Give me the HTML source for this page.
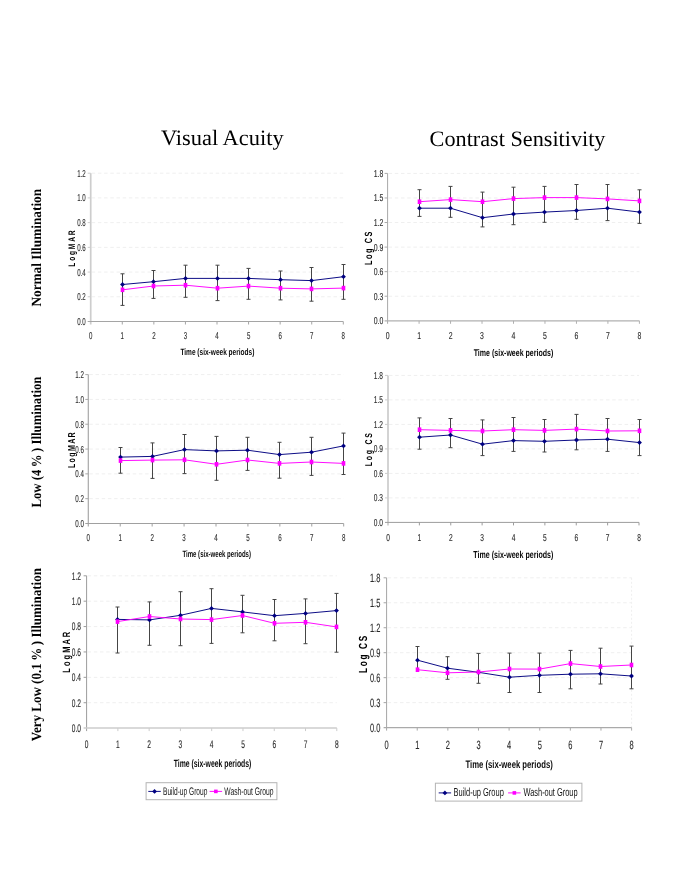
<!DOCTYPE html>
<html><head><meta charset="utf-8"><style>
html,body{margin:0;padding:0;background:#fff;}
svg{display:block;filter:blur(0.35px);} text{text-rendering:geometricPrecision;} .tk{stroke:#2a2a2a;stroke-width:0.12px;}
</style></head><body>
<svg width="685" height="887" viewBox="0 0 685 887">
<rect width="685" height="887" fill="#fff"/>
<line x1="91.7" y1="296.78" x2="343.3" y2="296.78" stroke="#efefef" stroke-width="1" stroke-dasharray="3.5,2.7"/>
<line x1="91.7" y1="272.07" x2="343.3" y2="272.07" stroke="#efefef" stroke-width="1" stroke-dasharray="3.5,2.7"/>
<line x1="91.7" y1="247.35" x2="343.3" y2="247.35" stroke="#efefef" stroke-width="1" stroke-dasharray="3.5,2.7"/>
<line x1="91.7" y1="222.63" x2="343.3" y2="222.63" stroke="#efefef" stroke-width="1" stroke-dasharray="3.5,2.7"/>
<line x1="91.7" y1="197.92" x2="343.3" y2="197.92" stroke="#efefef" stroke-width="1" stroke-dasharray="3.5,2.7"/>
<line x1="91.7" y1="173.2" x2="343.3" y2="173.2" stroke="#efefef" stroke-width="1" stroke-dasharray="3.5,2.7"/>
<line x1="90.7" y1="173.2" x2="90.7" y2="324.5" stroke="#cdcdcd" stroke-width="1.7"/>
<line x1="87.7" y1="321.5" x2="343.3" y2="321.5" stroke="#a5a5a5" stroke-width="1.0"/>
<line x1="87.7" y1="296.78" x2="90.7" y2="296.78" stroke="#cdcdcd" stroke-width="1"/>
<line x1="87.7" y1="272.07" x2="90.7" y2="272.07" stroke="#cdcdcd" stroke-width="1"/>
<line x1="87.7" y1="247.35" x2="90.7" y2="247.35" stroke="#cdcdcd" stroke-width="1"/>
<line x1="87.7" y1="222.63" x2="90.7" y2="222.63" stroke="#cdcdcd" stroke-width="1"/>
<line x1="87.7" y1="197.92" x2="90.7" y2="197.92" stroke="#cdcdcd" stroke-width="1"/>
<line x1="87.7" y1="173.2" x2="90.7" y2="173.2" stroke="#cdcdcd" stroke-width="1"/>
<line x1="122.28" y1="321.5" x2="122.28" y2="324.5" stroke="#a5a5a5" stroke-width="1"/>
<line x1="153.85" y1="321.5" x2="153.85" y2="324.5" stroke="#a5a5a5" stroke-width="1"/>
<line x1="185.43" y1="321.5" x2="185.43" y2="324.5" stroke="#a5a5a5" stroke-width="1"/>
<line x1="217" y1="321.5" x2="217" y2="324.5" stroke="#a5a5a5" stroke-width="1"/>
<line x1="248.57" y1="321.5" x2="248.57" y2="324.5" stroke="#a5a5a5" stroke-width="1"/>
<line x1="280.15" y1="321.5" x2="280.15" y2="324.5" stroke="#a5a5a5" stroke-width="1"/>
<line x1="311.73" y1="321.5" x2="311.73" y2="324.5" stroke="#a5a5a5" stroke-width="1"/>
<line x1="343.3" y1="321.5" x2="343.3" y2="324.5" stroke="#a5a5a5" stroke-width="1"/>
<text transform="translate(77.20,324.95) scale(0.6115,1)" font-family='"Liberation Sans", sans-serif' font-size="10.00" fill="#2a2a2a" class="tk">0.0</text>
<text transform="translate(77.20,300.23) scale(0.6115,1)" font-family='"Liberation Sans", sans-serif' font-size="10.00" fill="#2a2a2a" class="tk">0.2</text>
<text transform="translate(77.20,275.52) scale(0.6115,1)" font-family='"Liberation Sans", sans-serif' font-size="10.00" fill="#2a2a2a" class="tk">0.4</text>
<text transform="translate(77.20,250.80) scale(0.6115,1)" font-family='"Liberation Sans", sans-serif' font-size="10.00" fill="#2a2a2a" class="tk">0.6</text>
<text transform="translate(77.20,226.08) scale(0.6115,1)" font-family='"Liberation Sans", sans-serif' font-size="10.00" fill="#2a2a2a" class="tk">0.8</text>
<text transform="translate(77.20,201.37) scale(0.6115,1)" font-family='"Liberation Sans", sans-serif' font-size="10.00" fill="#2a2a2a" class="tk">1.0</text>
<text transform="translate(77.20,176.70) scale(0.6115,1)" font-family='"Liberation Sans", sans-serif' font-size="10.00" fill="#2a2a2a" class="tk">1.2</text>
<text transform="translate(89.00,338.65) scale(0.6115,1)" font-family='"Liberation Sans", sans-serif' font-size="10.00" fill="#2a2a2a" class="tk">0</text>
<text transform="translate(120.58,338.65) scale(0.6115,1)" font-family='"Liberation Sans", sans-serif' font-size="10.00" fill="#2a2a2a" class="tk">1</text>
<text transform="translate(152.15,338.70) scale(0.6115,1)" font-family='"Liberation Sans", sans-serif' font-size="10.00" fill="#2a2a2a" class="tk">2</text>
<text transform="translate(183.73,338.65) scale(0.6115,1)" font-family='"Liberation Sans", sans-serif' font-size="10.00" fill="#2a2a2a" class="tk">3</text>
<text transform="translate(215.30,338.65) scale(0.6115,1)" font-family='"Liberation Sans", sans-serif' font-size="10.00" fill="#2a2a2a" class="tk">4</text>
<text transform="translate(246.88,338.60) scale(0.6115,1)" font-family='"Liberation Sans", sans-serif' font-size="10.00" fill="#2a2a2a" class="tk">5</text>
<text transform="translate(278.45,338.65) scale(0.6115,1)" font-family='"Liberation Sans", sans-serif' font-size="10.00" fill="#2a2a2a" class="tk">6</text>
<text transform="translate(310.03,338.65) scale(0.6115,1)" font-family='"Liberation Sans", sans-serif' font-size="10.00" fill="#2a2a2a" class="tk">7</text>
<text transform="translate(341.60,338.65) scale(0.6115,1)" font-family='"Liberation Sans", sans-serif' font-size="10.00" fill="#2a2a2a" class="tk">8</text>
<text transform="translate(180.40,354.80) scale(0.7092,1)" font-family='"Liberation Sans", sans-serif' font-size="9.22" font-weight="bold" fill="#0a0a0a">Time (six-week periods)</text>
<text transform="translate(75.20,266.70) rotate(-90) scale(0.7000,1)" font-family='"Liberation Sans", sans-serif' font-size="9.50" font-weight="bold" fill="#000" letter-spacing="2.536">LogMAR</text>
<line x1="122.5" y1="273.8" x2="122.5" y2="305.4" stroke="#454545" stroke-width="1"/>
<line x1="120.5" y1="273.8" x2="124.5" y2="273.8" stroke="#454545" stroke-width="1"/>
<line x1="120.5" y1="305.4" x2="124.5" y2="305.4" stroke="#454545" stroke-width="1"/>
<line x1="153.5" y1="270.5" x2="153.5" y2="298.4" stroke="#454545" stroke-width="1"/>
<line x1="151.5" y1="270.5" x2="155.5" y2="270.5" stroke="#454545" stroke-width="1"/>
<line x1="151.5" y1="298.4" x2="155.5" y2="298.4" stroke="#454545" stroke-width="1"/>
<line x1="185.5" y1="265.2" x2="185.5" y2="297.3" stroke="#454545" stroke-width="1"/>
<line x1="183.5" y1="265.2" x2="187.5" y2="265.2" stroke="#454545" stroke-width="1"/>
<line x1="183.5" y1="297.3" x2="187.5" y2="297.3" stroke="#454545" stroke-width="1"/>
<line x1="217.5" y1="265.2" x2="217.5" y2="300.6" stroke="#454545" stroke-width="1"/>
<line x1="215.5" y1="265.2" x2="219.5" y2="265.2" stroke="#454545" stroke-width="1"/>
<line x1="215.5" y1="300.6" x2="219.5" y2="300.6" stroke="#454545" stroke-width="1"/>
<line x1="248.5" y1="268.4" x2="248.5" y2="299.3" stroke="#454545" stroke-width="1"/>
<line x1="246.5" y1="268.4" x2="250.5" y2="268.4" stroke="#454545" stroke-width="1"/>
<line x1="246.5" y1="299.3" x2="250.5" y2="299.3" stroke="#454545" stroke-width="1"/>
<line x1="280.5" y1="271" x2="280.5" y2="299.9" stroke="#454545" stroke-width="1"/>
<line x1="278.5" y1="271" x2="282.5" y2="271" stroke="#454545" stroke-width="1"/>
<line x1="278.5" y1="299.9" x2="282.5" y2="299.9" stroke="#454545" stroke-width="1"/>
<line x1="311.5" y1="267.5" x2="311.5" y2="301.2" stroke="#454545" stroke-width="1"/>
<line x1="309.5" y1="267.5" x2="313.5" y2="267.5" stroke="#454545" stroke-width="1"/>
<line x1="309.5" y1="301.2" x2="313.5" y2="301.2" stroke="#454545" stroke-width="1"/>
<line x1="343.5" y1="264.5" x2="343.5" y2="299.3" stroke="#454545" stroke-width="1"/>
<line x1="341.5" y1="264.5" x2="345.5" y2="264.5" stroke="#454545" stroke-width="1"/>
<line x1="341.5" y1="299.3" x2="345.5" y2="299.3" stroke="#454545" stroke-width="1"/>
<polyline points="122.5,284.5 153.5,281.7 185.5,278.4 217.5,278.4 248.5,278.4 280.5,279.7 311.5,280.6 343.5,276.7" fill="none" stroke="#000080" stroke-width="0.95"/>
<polygon points="122.5,282.1 124.9,284.5 122.5,286.9 120.1,284.5" fill="#000080"/>
<polygon points="153.5,279.3 155.9,281.7 153.5,284.1 151.1,281.7" fill="#000080"/>
<polygon points="185.5,276 187.9,278.4 185.5,280.8 183.1,278.4" fill="#000080"/>
<polygon points="217.5,276 219.9,278.4 217.5,280.8 215.1,278.4" fill="#000080"/>
<polygon points="248.5,276 250.9,278.4 248.5,280.8 246.1,278.4" fill="#000080"/>
<polygon points="280.5,277.3 282.9,279.7 280.5,282.1 278.1,279.7" fill="#000080"/>
<polygon points="311.5,278.2 313.9,280.6 311.5,283 309.1,280.6" fill="#000080"/>
<polygon points="343.5,274.3 345.9,276.7 343.5,279.1 341.1,276.7" fill="#000080"/>
<polyline points="122.5,289.8 153.5,286 185.5,285.2 217.5,288.2 248.5,286.1 280.5,288.2 311.5,288.9 343.5,288.1" fill="none" stroke="#ff00ff" stroke-width="0.95"/>
<rect x="120.7" y="287.5" width="3.6" height="4.6" fill="#ff00ff"/>
<rect x="151.7" y="283.7" width="3.6" height="4.6" fill="#ff00ff"/>
<rect x="183.7" y="282.9" width="3.6" height="4.6" fill="#ff00ff"/>
<rect x="215.7" y="285.9" width="3.6" height="4.6" fill="#ff00ff"/>
<rect x="246.7" y="283.8" width="3.6" height="4.6" fill="#ff00ff"/>
<rect x="278.7" y="285.9" width="3.6" height="4.6" fill="#ff00ff"/>
<rect x="309.7" y="286.6" width="3.6" height="4.6" fill="#ff00ff"/>
<rect x="341.7" y="285.8" width="3.6" height="4.6" fill="#ff00ff"/>
<line x1="388.6" y1="296.23" x2="639.4" y2="296.23" stroke="#efefef" stroke-width="1" stroke-dasharray="3.5,2.7"/>
<line x1="388.6" y1="271.67" x2="639.4" y2="271.67" stroke="#efefef" stroke-width="1" stroke-dasharray="3.5,2.7"/>
<line x1="388.6" y1="247.1" x2="639.4" y2="247.1" stroke="#efefef" stroke-width="1" stroke-dasharray="3.5,2.7"/>
<line x1="388.6" y1="222.53" x2="639.4" y2="222.53" stroke="#efefef" stroke-width="1" stroke-dasharray="3.5,2.7"/>
<line x1="388.6" y1="197.97" x2="639.4" y2="197.97" stroke="#efefef" stroke-width="1" stroke-dasharray="3.5,2.7"/>
<line x1="388.6" y1="173.4" x2="639.4" y2="173.4" stroke="#efefef" stroke-width="1" stroke-dasharray="3.5,2.7"/>
<line x1="387.6" y1="173.4" x2="387.6" y2="323.8" stroke="#a8a8a8" stroke-width="1.0"/>
<line x1="384.6" y1="320.8" x2="639.4" y2="320.8" stroke="#b0b0b0" stroke-width="1.2"/>
<line x1="384.6" y1="296.23" x2="387.6" y2="296.23" stroke="#a8a8a8" stroke-width="1"/>
<line x1="384.6" y1="271.67" x2="387.6" y2="271.67" stroke="#a8a8a8" stroke-width="1"/>
<line x1="384.6" y1="247.1" x2="387.6" y2="247.1" stroke="#a8a8a8" stroke-width="1"/>
<line x1="384.6" y1="222.53" x2="387.6" y2="222.53" stroke="#a8a8a8" stroke-width="1"/>
<line x1="384.6" y1="197.97" x2="387.6" y2="197.97" stroke="#a8a8a8" stroke-width="1"/>
<line x1="384.6" y1="173.4" x2="387.6" y2="173.4" stroke="#a8a8a8" stroke-width="1"/>
<line x1="419.08" y1="320.8" x2="419.08" y2="323.8" stroke="#b0b0b0" stroke-width="1"/>
<line x1="450.55" y1="320.8" x2="450.55" y2="323.8" stroke="#b0b0b0" stroke-width="1"/>
<line x1="482.02" y1="320.8" x2="482.02" y2="323.8" stroke="#b0b0b0" stroke-width="1"/>
<line x1="513.5" y1="320.8" x2="513.5" y2="323.8" stroke="#b0b0b0" stroke-width="1"/>
<line x1="544.98" y1="320.8" x2="544.98" y2="323.8" stroke="#b0b0b0" stroke-width="1"/>
<line x1="576.45" y1="320.8" x2="576.45" y2="323.8" stroke="#b0b0b0" stroke-width="1"/>
<line x1="607.92" y1="320.8" x2="607.92" y2="323.8" stroke="#b0b0b0" stroke-width="1"/>
<line x1="639.4" y1="320.8" x2="639.4" y2="323.8" stroke="#b0b0b0" stroke-width="1"/>
<text transform="translate(373.70,324.25) scale(0.6906,1)" font-family='"Liberation Sans", sans-serif' font-size="10.00" fill="#2a2a2a" class="tk">0.0</text>
<text transform="translate(373.70,299.68) scale(0.6906,1)" font-family='"Liberation Sans", sans-serif' font-size="10.00" fill="#2a2a2a" class="tk">0.3</text>
<text transform="translate(373.70,275.12) scale(0.6906,1)" font-family='"Liberation Sans", sans-serif' font-size="10.00" fill="#2a2a2a" class="tk">0.6</text>
<text transform="translate(373.70,250.55) scale(0.6906,1)" font-family='"Liberation Sans", sans-serif' font-size="10.00" fill="#2a2a2a" class="tk">0.9</text>
<text transform="translate(373.70,226.03) scale(0.6906,1)" font-family='"Liberation Sans", sans-serif' font-size="10.00" fill="#2a2a2a" class="tk">1.2</text>
<text transform="translate(373.70,201.37) scale(0.6906,1)" font-family='"Liberation Sans", sans-serif' font-size="10.00" fill="#2a2a2a" class="tk">1.5</text>
<text transform="translate(373.70,176.85) scale(0.6906,1)" font-family='"Liberation Sans", sans-serif' font-size="10.00" fill="#2a2a2a" class="tk">1.8</text>
<text transform="translate(385.68,338.65) scale(0.6906,1)" font-family='"Liberation Sans", sans-serif' font-size="10.00" fill="#2a2a2a" class="tk">0</text>
<text transform="translate(417.16,338.65) scale(0.6906,1)" font-family='"Liberation Sans", sans-serif' font-size="10.00" fill="#2a2a2a" class="tk">1</text>
<text transform="translate(448.63,338.70) scale(0.6906,1)" font-family='"Liberation Sans", sans-serif' font-size="10.00" fill="#2a2a2a" class="tk">2</text>
<text transform="translate(480.11,338.65) scale(0.6906,1)" font-family='"Liberation Sans", sans-serif' font-size="10.00" fill="#2a2a2a" class="tk">3</text>
<text transform="translate(511.58,338.65) scale(0.6906,1)" font-family='"Liberation Sans", sans-serif' font-size="10.00" fill="#2a2a2a" class="tk">4</text>
<text transform="translate(543.06,338.60) scale(0.6906,1)" font-family='"Liberation Sans", sans-serif' font-size="10.00" fill="#2a2a2a" class="tk">5</text>
<text transform="translate(574.53,338.65) scale(0.6906,1)" font-family='"Liberation Sans", sans-serif' font-size="10.00" fill="#2a2a2a" class="tk">6</text>
<text transform="translate(606.01,338.65) scale(0.6906,1)" font-family='"Liberation Sans", sans-serif' font-size="10.00" fill="#2a2a2a" class="tk">7</text>
<text transform="translate(637.48,338.65) scale(0.6906,1)" font-family='"Liberation Sans", sans-serif' font-size="10.00" fill="#2a2a2a" class="tk">8</text>
<text transform="translate(473.70,356.10) scale(0.7202,1)" font-family='"Liberation Sans", sans-serif' font-size="9.78" font-weight="bold" fill="#0a0a0a">Time (six-week periods)</text>
<text transform="translate(371.90,265.00) rotate(-90) scale(0.7000,1)" font-family='"Liberation Sans", sans-serif' font-size="10.47" font-weight="bold" fill="#000" letter-spacing="2.239">Log CS</text>
<line x1="419.5" y1="189.7" x2="419.5" y2="216.4" stroke="#454545" stroke-width="1"/>
<line x1="417.5" y1="189.7" x2="421.5" y2="189.7" stroke="#454545" stroke-width="1"/>
<line x1="417.5" y1="216.4" x2="421.5" y2="216.4" stroke="#454545" stroke-width="1"/>
<line x1="450.5" y1="186.4" x2="450.5" y2="217.3" stroke="#454545" stroke-width="1"/>
<line x1="448.5" y1="186.4" x2="452.5" y2="186.4" stroke="#454545" stroke-width="1"/>
<line x1="448.5" y1="217.3" x2="452.5" y2="217.3" stroke="#454545" stroke-width="1"/>
<line x1="482.5" y1="192.1" x2="482.5" y2="226.9" stroke="#454545" stroke-width="1"/>
<line x1="480.5" y1="192.1" x2="484.5" y2="192.1" stroke="#454545" stroke-width="1"/>
<line x1="480.5" y1="226.9" x2="484.5" y2="226.9" stroke="#454545" stroke-width="1"/>
<line x1="513.5" y1="187.2" x2="513.5" y2="224.7" stroke="#454545" stroke-width="1"/>
<line x1="511.5" y1="187.2" x2="515.5" y2="187.2" stroke="#454545" stroke-width="1"/>
<line x1="511.5" y1="224.7" x2="515.5" y2="224.7" stroke="#454545" stroke-width="1"/>
<line x1="544.5" y1="186.4" x2="544.5" y2="222.3" stroke="#454545" stroke-width="1"/>
<line x1="542.5" y1="186.4" x2="546.5" y2="186.4" stroke="#454545" stroke-width="1"/>
<line x1="542.5" y1="222.3" x2="546.5" y2="222.3" stroke="#454545" stroke-width="1"/>
<line x1="576.5" y1="184.5" x2="576.5" y2="219.3" stroke="#454545" stroke-width="1"/>
<line x1="574.5" y1="184.5" x2="578.5" y2="184.5" stroke="#454545" stroke-width="1"/>
<line x1="574.5" y1="219.3" x2="578.5" y2="219.3" stroke="#454545" stroke-width="1"/>
<line x1="607.5" y1="184.5" x2="607.5" y2="220.6" stroke="#454545" stroke-width="1"/>
<line x1="605.5" y1="184.5" x2="609.5" y2="184.5" stroke="#454545" stroke-width="1"/>
<line x1="605.5" y1="220.6" x2="609.5" y2="220.6" stroke="#454545" stroke-width="1"/>
<line x1="639.5" y1="189.8" x2="639.5" y2="223.4" stroke="#454545" stroke-width="1"/>
<line x1="637.5" y1="189.8" x2="641.5" y2="189.8" stroke="#454545" stroke-width="1"/>
<line x1="637.5" y1="223.4" x2="641.5" y2="223.4" stroke="#454545" stroke-width="1"/>
<polyline points="419.5,208.2 450.5,208.2 482.5,217.7 513.5,214 544.5,212.1 576.5,210.5 607.5,208.2 639.5,212.1" fill="none" stroke="#000080" stroke-width="0.95"/>
<polygon points="419.5,205.8 421.9,208.2 419.5,210.6 417.1,208.2" fill="#000080"/>
<polygon points="450.5,205.8 452.9,208.2 450.5,210.6 448.1,208.2" fill="#000080"/>
<polygon points="482.5,215.3 484.9,217.7 482.5,220.1 480.1,217.7" fill="#000080"/>
<polygon points="513.5,211.6 515.9,214 513.5,216.4 511.1,214" fill="#000080"/>
<polygon points="544.5,209.7 546.9,212.1 544.5,214.5 542.1,212.1" fill="#000080"/>
<polygon points="576.5,208.1 578.9,210.5 576.5,212.9 574.1,210.5" fill="#000080"/>
<polygon points="607.5,205.8 609.9,208.2 607.5,210.6 605.1,208.2" fill="#000080"/>
<polygon points="639.5,209.7 641.9,212.1 639.5,214.5 637.1,212.1" fill="#000080"/>
<polyline points="419.5,201.7 450.5,199.6 482.5,201.7 513.5,198.6 544.5,197.6 576.5,197.6 607.5,198.9 639.5,200.9" fill="none" stroke="#ff00ff" stroke-width="0.95"/>
<rect x="417.7" y="199.4" width="3.6" height="4.6" fill="#ff00ff"/>
<rect x="448.7" y="197.3" width="3.6" height="4.6" fill="#ff00ff"/>
<rect x="480.7" y="199.4" width="3.6" height="4.6" fill="#ff00ff"/>
<rect x="511.7" y="196.3" width="3.6" height="4.6" fill="#ff00ff"/>
<rect x="542.7" y="195.3" width="3.6" height="4.6" fill="#ff00ff"/>
<rect x="574.7" y="195.3" width="3.6" height="4.6" fill="#ff00ff"/>
<rect x="605.7" y="196.6" width="3.6" height="4.6" fill="#ff00ff"/>
<rect x="637.7" y="198.6" width="3.6" height="4.6" fill="#ff00ff"/>
<line x1="89.3" y1="498.68" x2="343.7" y2="498.68" stroke="#efefef" stroke-width="1" stroke-dasharray="3.5,2.7"/>
<line x1="89.3" y1="473.87" x2="343.7" y2="473.87" stroke="#efefef" stroke-width="1" stroke-dasharray="3.5,2.7"/>
<line x1="89.3" y1="449.05" x2="343.7" y2="449.05" stroke="#efefef" stroke-width="1" stroke-dasharray="3.5,2.7"/>
<line x1="89.3" y1="424.23" x2="343.7" y2="424.23" stroke="#efefef" stroke-width="1" stroke-dasharray="3.5,2.7"/>
<line x1="89.3" y1="399.42" x2="343.7" y2="399.42" stroke="#efefef" stroke-width="1" stroke-dasharray="3.5,2.7"/>
<line x1="89.3" y1="374.6" x2="343.7" y2="374.6" stroke="#efefef" stroke-width="1" stroke-dasharray="3.5,2.7"/>
<line x1="88.3" y1="374.6" x2="88.3" y2="526.5" stroke="#a8a8a8" stroke-width="1.2"/>
<line x1="85.3" y1="523.5" x2="343.7" y2="523.5" stroke="#a0a0a0" stroke-width="1.2"/>
<line x1="85.3" y1="498.68" x2="88.3" y2="498.68" stroke="#a8a8a8" stroke-width="1"/>
<line x1="85.3" y1="473.87" x2="88.3" y2="473.87" stroke="#a8a8a8" stroke-width="1"/>
<line x1="85.3" y1="449.05" x2="88.3" y2="449.05" stroke="#a8a8a8" stroke-width="1"/>
<line x1="85.3" y1="424.23" x2="88.3" y2="424.23" stroke="#a8a8a8" stroke-width="1"/>
<line x1="85.3" y1="399.42" x2="88.3" y2="399.42" stroke="#a8a8a8" stroke-width="1"/>
<line x1="85.3" y1="374.6" x2="88.3" y2="374.6" stroke="#a8a8a8" stroke-width="1"/>
<line x1="120.22" y1="523.5" x2="120.22" y2="526.5" stroke="#a0a0a0" stroke-width="1"/>
<line x1="152.15" y1="523.5" x2="152.15" y2="526.5" stroke="#a0a0a0" stroke-width="1"/>
<line x1="184.07" y1="523.5" x2="184.07" y2="526.5" stroke="#a0a0a0" stroke-width="1"/>
<line x1="216" y1="523.5" x2="216" y2="526.5" stroke="#a0a0a0" stroke-width="1"/>
<line x1="247.93" y1="523.5" x2="247.93" y2="526.5" stroke="#a0a0a0" stroke-width="1"/>
<line x1="279.85" y1="523.5" x2="279.85" y2="526.5" stroke="#a0a0a0" stroke-width="1"/>
<line x1="311.77" y1="523.5" x2="311.77" y2="526.5" stroke="#a0a0a0" stroke-width="1"/>
<line x1="343.7" y1="523.5" x2="343.7" y2="526.5" stroke="#a0a0a0" stroke-width="1"/>
<text transform="translate(75.30,526.95) scale(0.6187,1)" font-family='"Liberation Sans", sans-serif' font-size="10.00" fill="#2a2a2a" class="tk">0.0</text>
<text transform="translate(75.30,502.13) scale(0.6187,1)" font-family='"Liberation Sans", sans-serif' font-size="10.00" fill="#2a2a2a" class="tk">0.2</text>
<text transform="translate(75.30,477.32) scale(0.6187,1)" font-family='"Liberation Sans", sans-serif' font-size="10.00" fill="#2a2a2a" class="tk">0.4</text>
<text transform="translate(75.30,452.50) scale(0.6187,1)" font-family='"Liberation Sans", sans-serif' font-size="10.00" fill="#2a2a2a" class="tk">0.6</text>
<text transform="translate(75.30,427.68) scale(0.6187,1)" font-family='"Liberation Sans", sans-serif' font-size="10.00" fill="#2a2a2a" class="tk">0.8</text>
<text transform="translate(75.30,402.87) scale(0.6187,1)" font-family='"Liberation Sans", sans-serif' font-size="10.00" fill="#2a2a2a" class="tk">1.0</text>
<text transform="translate(75.30,378.10) scale(0.6187,1)" font-family='"Liberation Sans", sans-serif' font-size="10.00" fill="#2a2a2a" class="tk">1.2</text>
<text transform="translate(86.58,540.75) scale(0.6187,1)" font-family='"Liberation Sans", sans-serif' font-size="10.00" fill="#2a2a2a" class="tk">0</text>
<text transform="translate(118.51,540.75) scale(0.6187,1)" font-family='"Liberation Sans", sans-serif' font-size="10.00" fill="#2a2a2a" class="tk">1</text>
<text transform="translate(150.43,540.80) scale(0.6187,1)" font-family='"Liberation Sans", sans-serif' font-size="10.00" fill="#2a2a2a" class="tk">2</text>
<text transform="translate(182.36,540.75) scale(0.6187,1)" font-family='"Liberation Sans", sans-serif' font-size="10.00" fill="#2a2a2a" class="tk">3</text>
<text transform="translate(214.28,540.75) scale(0.6187,1)" font-family='"Liberation Sans", sans-serif' font-size="10.00" fill="#2a2a2a" class="tk">4</text>
<text transform="translate(246.21,540.70) scale(0.6187,1)" font-family='"Liberation Sans", sans-serif' font-size="10.00" fill="#2a2a2a" class="tk">5</text>
<text transform="translate(278.13,540.75) scale(0.6187,1)" font-family='"Liberation Sans", sans-serif' font-size="10.00" fill="#2a2a2a" class="tk">6</text>
<text transform="translate(310.06,540.75) scale(0.6187,1)" font-family='"Liberation Sans", sans-serif' font-size="10.00" fill="#2a2a2a" class="tk">7</text>
<text transform="translate(341.98,540.75) scale(0.6187,1)" font-family='"Liberation Sans", sans-serif' font-size="10.00" fill="#2a2a2a" class="tk">8</text>
<text transform="translate(182.40,556.80) scale(0.6574,1)" font-family='"Liberation Sans", sans-serif' font-size="9.22" font-weight="bold" fill="#0a0a0a">Time (six-week periods)</text>
<text transform="translate(75.00,468.10) rotate(-90) scale(0.7000,1)" font-family='"Liberation Sans", sans-serif' font-size="10.06" font-weight="bold" fill="#000" letter-spacing="1.963">LogMAR</text>
<line x1="120.5" y1="447.5" x2="120.5" y2="473.2" stroke="#454545" stroke-width="1"/>
<line x1="118.5" y1="447.5" x2="122.5" y2="447.5" stroke="#454545" stroke-width="1"/>
<line x1="118.5" y1="473.2" x2="122.5" y2="473.2" stroke="#454545" stroke-width="1"/>
<line x1="152.5" y1="442.9" x2="152.5" y2="478.4" stroke="#454545" stroke-width="1"/>
<line x1="150.5" y1="442.9" x2="154.5" y2="442.9" stroke="#454545" stroke-width="1"/>
<line x1="150.5" y1="478.4" x2="154.5" y2="478.4" stroke="#454545" stroke-width="1"/>
<line x1="184.5" y1="434.5" x2="184.5" y2="473.6" stroke="#454545" stroke-width="1"/>
<line x1="182.5" y1="434.5" x2="186.5" y2="434.5" stroke="#454545" stroke-width="1"/>
<line x1="182.5" y1="473.6" x2="186.5" y2="473.6" stroke="#454545" stroke-width="1"/>
<line x1="216.5" y1="436.4" x2="216.5" y2="480.3" stroke="#454545" stroke-width="1"/>
<line x1="214.5" y1="436.4" x2="218.5" y2="436.4" stroke="#454545" stroke-width="1"/>
<line x1="214.5" y1="480.3" x2="218.5" y2="480.3" stroke="#454545" stroke-width="1"/>
<line x1="247.5" y1="437.3" x2="247.5" y2="470.4" stroke="#454545" stroke-width="1"/>
<line x1="245.5" y1="437.3" x2="249.5" y2="437.3" stroke="#454545" stroke-width="1"/>
<line x1="245.5" y1="470.4" x2="249.5" y2="470.4" stroke="#454545" stroke-width="1"/>
<line x1="279.5" y1="442.3" x2="279.5" y2="478.2" stroke="#454545" stroke-width="1"/>
<line x1="277.5" y1="442.3" x2="281.5" y2="442.3" stroke="#454545" stroke-width="1"/>
<line x1="277.5" y1="478.2" x2="281.5" y2="478.2" stroke="#454545" stroke-width="1"/>
<line x1="311.5" y1="437.3" x2="311.5" y2="475.4" stroke="#454545" stroke-width="1"/>
<line x1="309.5" y1="437.3" x2="313.5" y2="437.3" stroke="#454545" stroke-width="1"/>
<line x1="309.5" y1="475.4" x2="313.5" y2="475.4" stroke="#454545" stroke-width="1"/>
<line x1="343.5" y1="433.1" x2="343.5" y2="474.5" stroke="#454545" stroke-width="1"/>
<line x1="341.5" y1="433.1" x2="345.5" y2="433.1" stroke="#454545" stroke-width="1"/>
<line x1="341.5" y1="474.5" x2="345.5" y2="474.5" stroke="#454545" stroke-width="1"/>
<polyline points="120.5,457.1 152.5,456.4 184.5,449.6 216.5,450.9 247.5,450.2 279.5,454.6 311.5,452.2 343.5,445.9" fill="none" stroke="#000080" stroke-width="0.95"/>
<polygon points="120.5,454.7 122.9,457.1 120.5,459.5 118.1,457.1" fill="#000080"/>
<polygon points="152.5,454 154.9,456.4 152.5,458.8 150.1,456.4" fill="#000080"/>
<polygon points="184.5,447.2 186.9,449.6 184.5,452 182.1,449.6" fill="#000080"/>
<polygon points="216.5,448.5 218.9,450.9 216.5,453.3 214.1,450.9" fill="#000080"/>
<polygon points="247.5,447.8 249.9,450.2 247.5,452.6 245.1,450.2" fill="#000080"/>
<polygon points="279.5,452.2 281.9,454.6 279.5,457 277.1,454.6" fill="#000080"/>
<polygon points="311.5,449.8 313.9,452.2 311.5,454.6 309.1,452.2" fill="#000080"/>
<polygon points="343.5,443.5 345.9,445.9 343.5,448.3 341.1,445.9" fill="#000080"/>
<polyline points="120.5,460.6 152.5,460.1 184.5,459.8 216.5,464.3 247.5,460 279.5,463.4 311.5,462 343.5,463.4" fill="none" stroke="#ff00ff" stroke-width="0.95"/>
<rect x="118.7" y="458.3" width="3.6" height="4.6" fill="#ff00ff"/>
<rect x="150.7" y="457.8" width="3.6" height="4.6" fill="#ff00ff"/>
<rect x="182.7" y="457.5" width="3.6" height="4.6" fill="#ff00ff"/>
<rect x="214.7" y="462" width="3.6" height="4.6" fill="#ff00ff"/>
<rect x="245.7" y="457.7" width="3.6" height="4.6" fill="#ff00ff"/>
<rect x="277.7" y="461.1" width="3.6" height="4.6" fill="#ff00ff"/>
<rect x="309.7" y="459.7" width="3.6" height="4.6" fill="#ff00ff"/>
<rect x="341.7" y="461.1" width="3.6" height="4.6" fill="#ff00ff"/>
<line x1="389" y1="497.9" x2="639" y2="497.9" stroke="#efefef" stroke-width="1" stroke-dasharray="3.5,2.7"/>
<line x1="389" y1="473.4" x2="639" y2="473.4" stroke="#efefef" stroke-width="1" stroke-dasharray="3.5,2.7"/>
<line x1="389" y1="448.9" x2="639" y2="448.9" stroke="#efefef" stroke-width="1" stroke-dasharray="3.5,2.7"/>
<line x1="389" y1="424.4" x2="639" y2="424.4" stroke="#efefef" stroke-width="1" stroke-dasharray="3.5,2.7"/>
<line x1="389" y1="399.9" x2="639" y2="399.9" stroke="#efefef" stroke-width="1" stroke-dasharray="3.5,2.7"/>
<line x1="389" y1="375.4" x2="639" y2="375.4" stroke="#efefef" stroke-width="1" stroke-dasharray="3.5,2.7"/>
<line x1="388" y1="375.4" x2="388" y2="525.4" stroke="#cccccc" stroke-width="1.7"/>
<line x1="385" y1="522.4" x2="639" y2="522.4" stroke="#9c9c9c" stroke-width="1.0"/>
<line x1="385" y1="497.9" x2="388" y2="497.9" stroke="#cccccc" stroke-width="1"/>
<line x1="385" y1="473.4" x2="388" y2="473.4" stroke="#cccccc" stroke-width="1"/>
<line x1="385" y1="448.9" x2="388" y2="448.9" stroke="#cccccc" stroke-width="1"/>
<line x1="385" y1="424.4" x2="388" y2="424.4" stroke="#cccccc" stroke-width="1"/>
<line x1="385" y1="399.9" x2="388" y2="399.9" stroke="#cccccc" stroke-width="1"/>
<line x1="385" y1="375.4" x2="388" y2="375.4" stroke="#cccccc" stroke-width="1"/>
<line x1="419.38" y1="522.4" x2="419.38" y2="525.4" stroke="#9c9c9c" stroke-width="1"/>
<line x1="450.75" y1="522.4" x2="450.75" y2="525.4" stroke="#9c9c9c" stroke-width="1"/>
<line x1="482.12" y1="522.4" x2="482.12" y2="525.4" stroke="#9c9c9c" stroke-width="1"/>
<line x1="513.5" y1="522.4" x2="513.5" y2="525.4" stroke="#9c9c9c" stroke-width="1"/>
<line x1="544.88" y1="522.4" x2="544.88" y2="525.4" stroke="#9c9c9c" stroke-width="1"/>
<line x1="576.25" y1="522.4" x2="576.25" y2="525.4" stroke="#9c9c9c" stroke-width="1"/>
<line x1="607.62" y1="522.4" x2="607.62" y2="525.4" stroke="#9c9c9c" stroke-width="1"/>
<line x1="639" y1="522.4" x2="639" y2="525.4" stroke="#9c9c9c" stroke-width="1"/>
<text transform="translate(373.80,525.85) scale(0.6619,1)" font-family='"Liberation Sans", sans-serif' font-size="10.00" fill="#2a2a2a" class="tk">0.0</text>
<text transform="translate(373.80,501.35) scale(0.6619,1)" font-family='"Liberation Sans", sans-serif' font-size="10.00" fill="#2a2a2a" class="tk">0.3</text>
<text transform="translate(373.80,476.85) scale(0.6619,1)" font-family='"Liberation Sans", sans-serif' font-size="10.00" fill="#2a2a2a" class="tk">0.6</text>
<text transform="translate(373.80,452.35) scale(0.6619,1)" font-family='"Liberation Sans", sans-serif' font-size="10.00" fill="#2a2a2a" class="tk">0.9</text>
<text transform="translate(373.80,427.90) scale(0.6619,1)" font-family='"Liberation Sans", sans-serif' font-size="10.00" fill="#2a2a2a" class="tk">1.2</text>
<text transform="translate(373.80,403.30) scale(0.6619,1)" font-family='"Liberation Sans", sans-serif' font-size="10.00" fill="#2a2a2a" class="tk">1.5</text>
<text transform="translate(373.80,378.85) scale(0.6619,1)" font-family='"Liberation Sans", sans-serif' font-size="10.00" fill="#2a2a2a" class="tk">1.8</text>
<text transform="translate(386.16,540.65) scale(0.6619,1)" font-family='"Liberation Sans", sans-serif' font-size="10.00" fill="#2a2a2a" class="tk">0</text>
<text transform="translate(417.54,540.65) scale(0.6619,1)" font-family='"Liberation Sans", sans-serif' font-size="10.00" fill="#2a2a2a" class="tk">1</text>
<text transform="translate(448.91,540.70) scale(0.6619,1)" font-family='"Liberation Sans", sans-serif' font-size="10.00" fill="#2a2a2a" class="tk">2</text>
<text transform="translate(480.29,540.65) scale(0.6619,1)" font-family='"Liberation Sans", sans-serif' font-size="10.00" fill="#2a2a2a" class="tk">3</text>
<text transform="translate(511.66,540.65) scale(0.6619,1)" font-family='"Liberation Sans", sans-serif' font-size="10.00" fill="#2a2a2a" class="tk">4</text>
<text transform="translate(543.04,540.60) scale(0.6619,1)" font-family='"Liberation Sans", sans-serif' font-size="10.00" fill="#2a2a2a" class="tk">5</text>
<text transform="translate(574.41,540.65) scale(0.6619,1)" font-family='"Liberation Sans", sans-serif' font-size="10.00" fill="#2a2a2a" class="tk">6</text>
<text transform="translate(605.79,540.65) scale(0.6619,1)" font-family='"Liberation Sans", sans-serif' font-size="10.00" fill="#2a2a2a" class="tk">7</text>
<text transform="translate(637.16,540.65) scale(0.6619,1)" font-family='"Liberation Sans", sans-serif' font-size="10.00" fill="#2a2a2a" class="tk">8</text>
<text transform="translate(473.30,557.70) scale(0.7037,1)" font-family='"Liberation Sans", sans-serif' font-size="10.06" font-weight="bold" fill="#0a0a0a">Time (six-week periods)</text>
<text transform="translate(371.90,466.30) rotate(-90) scale(0.7000,1)" font-family='"Liberation Sans", sans-serif' font-size="9.92" font-weight="bold" fill="#000" letter-spacing="2.516">Log CS</text>
<line x1="419.5" y1="417.9" x2="419.5" y2="449.2" stroke="#454545" stroke-width="1"/>
<line x1="417.5" y1="417.9" x2="421.5" y2="417.9" stroke="#454545" stroke-width="1"/>
<line x1="417.5" y1="449.2" x2="421.5" y2="449.2" stroke="#454545" stroke-width="1"/>
<line x1="450.5" y1="418.5" x2="450.5" y2="447.7" stroke="#454545" stroke-width="1"/>
<line x1="448.5" y1="418.5" x2="452.5" y2="418.5" stroke="#454545" stroke-width="1"/>
<line x1="448.5" y1="447.7" x2="452.5" y2="447.7" stroke="#454545" stroke-width="1"/>
<line x1="482.5" y1="419.9" x2="482.5" y2="455.6" stroke="#454545" stroke-width="1"/>
<line x1="480.5" y1="419.9" x2="484.5" y2="419.9" stroke="#454545" stroke-width="1"/>
<line x1="480.5" y1="455.6" x2="484.5" y2="455.6" stroke="#454545" stroke-width="1"/>
<line x1="513.5" y1="417.5" x2="513.5" y2="451.4" stroke="#454545" stroke-width="1"/>
<line x1="511.5" y1="417.5" x2="515.5" y2="417.5" stroke="#454545" stroke-width="1"/>
<line x1="511.5" y1="451.4" x2="515.5" y2="451.4" stroke="#454545" stroke-width="1"/>
<line x1="544.5" y1="419.5" x2="544.5" y2="452" stroke="#454545" stroke-width="1"/>
<line x1="542.5" y1="419.5" x2="546.5" y2="419.5" stroke="#454545" stroke-width="1"/>
<line x1="542.5" y1="452" x2="546.5" y2="452" stroke="#454545" stroke-width="1"/>
<line x1="576.5" y1="414.4" x2="576.5" y2="449.8" stroke="#454545" stroke-width="1"/>
<line x1="574.5" y1="414.4" x2="578.5" y2="414.4" stroke="#454545" stroke-width="1"/>
<line x1="574.5" y1="449.8" x2="578.5" y2="449.8" stroke="#454545" stroke-width="1"/>
<line x1="607.5" y1="418.5" x2="607.5" y2="451.4" stroke="#454545" stroke-width="1"/>
<line x1="605.5" y1="418.5" x2="609.5" y2="418.5" stroke="#454545" stroke-width="1"/>
<line x1="605.5" y1="451.4" x2="609.5" y2="451.4" stroke="#454545" stroke-width="1"/>
<line x1="639.5" y1="419.5" x2="639.5" y2="455.6" stroke="#454545" stroke-width="1"/>
<line x1="637.5" y1="419.5" x2="641.5" y2="419.5" stroke="#454545" stroke-width="1"/>
<line x1="637.5" y1="455.6" x2="641.5" y2="455.6" stroke="#454545" stroke-width="1"/>
<polyline points="419.5,437.2 450.5,435 482.5,444.2 513.5,440.6 544.5,441.3 576.5,440 607.5,439.2 639.5,442.6" fill="none" stroke="#000080" stroke-width="0.95"/>
<polygon points="419.5,434.8 421.9,437.2 419.5,439.6 417.1,437.2" fill="#000080"/>
<polygon points="450.5,432.6 452.9,435 450.5,437.4 448.1,435" fill="#000080"/>
<polygon points="482.5,441.8 484.9,444.2 482.5,446.6 480.1,444.2" fill="#000080"/>
<polygon points="513.5,438.2 515.9,440.6 513.5,443 511.1,440.6" fill="#000080"/>
<polygon points="544.5,438.9 546.9,441.3 544.5,443.7 542.1,441.3" fill="#000080"/>
<polygon points="576.5,437.6 578.9,440 576.5,442.4 574.1,440" fill="#000080"/>
<polygon points="607.5,436.8 609.9,439.2 607.5,441.6 605.1,439.2" fill="#000080"/>
<polygon points="639.5,440.2 641.9,442.6 639.5,445 637.1,442.6" fill="#000080"/>
<polyline points="419.5,429.7 450.5,430.4 482.5,431 513.5,429.7 544.5,430.4 576.5,429.1 607.5,431 639.5,430.8" fill="none" stroke="#ff00ff" stroke-width="0.95"/>
<rect x="417.7" y="427.4" width="3.6" height="4.6" fill="#ff00ff"/>
<rect x="448.7" y="428.1" width="3.6" height="4.6" fill="#ff00ff"/>
<rect x="480.7" y="428.7" width="3.6" height="4.6" fill="#ff00ff"/>
<rect x="511.7" y="427.4" width="3.6" height="4.6" fill="#ff00ff"/>
<rect x="542.7" y="428.1" width="3.6" height="4.6" fill="#ff00ff"/>
<rect x="574.7" y="426.8" width="3.6" height="4.6" fill="#ff00ff"/>
<rect x="605.7" y="428.7" width="3.6" height="4.6" fill="#ff00ff"/>
<rect x="637.7" y="428.5" width="3.6" height="4.6" fill="#ff00ff"/>
<line x1="87.6" y1="702.72" x2="336.8" y2="702.72" stroke="#efefef" stroke-width="1" stroke-dasharray="3.5,2.7"/>
<line x1="87.6" y1="677.33" x2="336.8" y2="677.33" stroke="#efefef" stroke-width="1" stroke-dasharray="3.5,2.7"/>
<line x1="87.6" y1="651.95" x2="336.8" y2="651.95" stroke="#efefef" stroke-width="1" stroke-dasharray="3.5,2.7"/>
<line x1="87.6" y1="626.57" x2="336.8" y2="626.57" stroke="#efefef" stroke-width="1" stroke-dasharray="3.5,2.7"/>
<line x1="87.6" y1="601.18" x2="336.8" y2="601.18" stroke="#efefef" stroke-width="1" stroke-dasharray="3.5,2.7"/>
<line x1="87.6" y1="575.8" x2="336.8" y2="575.8" stroke="#efefef" stroke-width="1" stroke-dasharray="3.5,2.7"/>
<line x1="86.6" y1="575.8" x2="86.6" y2="731.1" stroke="#9c9c9c" stroke-width="1.0"/>
<line x1="83.6" y1="728.1" x2="336.8" y2="728.1" stroke="#cccccc" stroke-width="1.5"/>
<line x1="83.6" y1="702.72" x2="86.6" y2="702.72" stroke="#9c9c9c" stroke-width="1"/>
<line x1="83.6" y1="677.33" x2="86.6" y2="677.33" stroke="#9c9c9c" stroke-width="1"/>
<line x1="83.6" y1="651.95" x2="86.6" y2="651.95" stroke="#9c9c9c" stroke-width="1"/>
<line x1="83.6" y1="626.57" x2="86.6" y2="626.57" stroke="#9c9c9c" stroke-width="1"/>
<line x1="83.6" y1="601.18" x2="86.6" y2="601.18" stroke="#9c9c9c" stroke-width="1"/>
<line x1="83.6" y1="575.8" x2="86.6" y2="575.8" stroke="#9c9c9c" stroke-width="1"/>
<line x1="117.88" y1="728.1" x2="117.88" y2="731.1" stroke="#cccccc" stroke-width="1"/>
<line x1="149.15" y1="728.1" x2="149.15" y2="731.1" stroke="#cccccc" stroke-width="1"/>
<line x1="180.43" y1="728.1" x2="180.43" y2="731.1" stroke="#cccccc" stroke-width="1"/>
<line x1="211.7" y1="728.1" x2="211.7" y2="731.1" stroke="#cccccc" stroke-width="1"/>
<line x1="242.97" y1="728.1" x2="242.97" y2="731.1" stroke="#cccccc" stroke-width="1"/>
<line x1="274.25" y1="728.1" x2="274.25" y2="731.1" stroke="#cccccc" stroke-width="1"/>
<line x1="305.52" y1="728.1" x2="305.52" y2="731.1" stroke="#cccccc" stroke-width="1"/>
<line x1="336.8" y1="728.1" x2="336.8" y2="731.1" stroke="#cccccc" stroke-width="1"/>
<text transform="translate(71.80,731.89) scale(0.6017,1)" font-family='"Liberation Sans", sans-serif' font-size="11.00" fill="#2a2a2a" class="tk">0.0</text>
<text transform="translate(71.80,706.51) scale(0.6017,1)" font-family='"Liberation Sans", sans-serif' font-size="11.00" fill="#2a2a2a" class="tk">0.2</text>
<text transform="translate(71.80,681.13) scale(0.6017,1)" font-family='"Liberation Sans", sans-serif' font-size="11.00" fill="#2a2a2a" class="tk">0.4</text>
<text transform="translate(71.80,655.75) scale(0.6017,1)" font-family='"Liberation Sans", sans-serif' font-size="11.00" fill="#2a2a2a" class="tk">0.6</text>
<text transform="translate(71.80,630.36) scale(0.6017,1)" font-family='"Liberation Sans", sans-serif' font-size="11.00" fill="#2a2a2a" class="tk">0.8</text>
<text transform="translate(71.80,604.98) scale(0.6017,1)" font-family='"Liberation Sans", sans-serif' font-size="11.00" fill="#2a2a2a" class="tk">1.0</text>
<text transform="translate(71.80,579.65) scale(0.6017,1)" font-family='"Liberation Sans", sans-serif' font-size="11.00" fill="#2a2a2a" class="tk">1.2</text>
<text transform="translate(84.76,748.39) scale(0.6017,1)" font-family='"Liberation Sans", sans-serif' font-size="11.00" fill="#2a2a2a" class="tk">0</text>
<text transform="translate(116.04,748.39) scale(0.6017,1)" font-family='"Liberation Sans", sans-serif' font-size="11.00" fill="#2a2a2a" class="tk">1</text>
<text transform="translate(147.31,748.45) scale(0.6017,1)" font-family='"Liberation Sans", sans-serif' font-size="11.00" fill="#2a2a2a" class="tk">2</text>
<text transform="translate(178.59,748.39) scale(0.6017,1)" font-family='"Liberation Sans", sans-serif' font-size="11.00" fill="#2a2a2a" class="tk">3</text>
<text transform="translate(209.86,748.39) scale(0.6017,1)" font-family='"Liberation Sans", sans-serif' font-size="11.00" fill="#2a2a2a" class="tk">4</text>
<text transform="translate(241.14,748.34) scale(0.6017,1)" font-family='"Liberation Sans", sans-serif' font-size="11.00" fill="#2a2a2a" class="tk">5</text>
<text transform="translate(272.41,748.39) scale(0.6017,1)" font-family='"Liberation Sans", sans-serif' font-size="11.00" fill="#2a2a2a" class="tk">6</text>
<text transform="translate(303.69,748.39) scale(0.6017,1)" font-family='"Liberation Sans", sans-serif' font-size="11.00" fill="#2a2a2a" class="tk">7</text>
<text transform="translate(334.96,748.39) scale(0.6017,1)" font-family='"Liberation Sans", sans-serif' font-size="11.00" fill="#2a2a2a" class="tk">8</text>
<text transform="translate(173.70,767.10) scale(0.6467,1)" font-family='"Liberation Sans", sans-serif' font-size="10.61" font-weight="bold" fill="#0a0a0a">Time (six-week periods)</text>
<text transform="translate(70.10,672.70) rotate(-90) scale(0.7000,1)" font-family='"Liberation Sans", sans-serif' font-size="10.61" font-weight="bold" fill="#000" letter-spacing="2.961">LogMAR</text>
<line x1="117.5" y1="607" x2="117.5" y2="653" stroke="#454545" stroke-width="1"/>
<line x1="115.5" y1="607" x2="119.5" y2="607" stroke="#454545" stroke-width="1"/>
<line x1="115.5" y1="653" x2="119.5" y2="653" stroke="#454545" stroke-width="1"/>
<line x1="149.5" y1="601.9" x2="149.5" y2="645.3" stroke="#454545" stroke-width="1"/>
<line x1="147.5" y1="601.9" x2="151.5" y2="601.9" stroke="#454545" stroke-width="1"/>
<line x1="147.5" y1="645.3" x2="151.5" y2="645.3" stroke="#454545" stroke-width="1"/>
<line x1="180.5" y1="591.7" x2="180.5" y2="645.7" stroke="#454545" stroke-width="1"/>
<line x1="178.5" y1="591.7" x2="182.5" y2="591.7" stroke="#454545" stroke-width="1"/>
<line x1="178.5" y1="645.7" x2="182.5" y2="645.7" stroke="#454545" stroke-width="1"/>
<line x1="211.5" y1="588.7" x2="211.5" y2="643.4" stroke="#454545" stroke-width="1"/>
<line x1="209.5" y1="588.7" x2="213.5" y2="588.7" stroke="#454545" stroke-width="1"/>
<line x1="209.5" y1="643.4" x2="213.5" y2="643.4" stroke="#454545" stroke-width="1"/>
<line x1="242.5" y1="595.3" x2="242.5" y2="632.8" stroke="#454545" stroke-width="1"/>
<line x1="240.5" y1="595.3" x2="244.5" y2="595.3" stroke="#454545" stroke-width="1"/>
<line x1="240.5" y1="632.8" x2="244.5" y2="632.8" stroke="#454545" stroke-width="1"/>
<line x1="274.5" y1="599.5" x2="274.5" y2="640.8" stroke="#454545" stroke-width="1"/>
<line x1="272.5" y1="599.5" x2="276.5" y2="599.5" stroke="#454545" stroke-width="1"/>
<line x1="272.5" y1="640.8" x2="276.5" y2="640.8" stroke="#454545" stroke-width="1"/>
<line x1="305.5" y1="598.9" x2="305.5" y2="643.7" stroke="#454545" stroke-width="1"/>
<line x1="303.5" y1="598.9" x2="307.5" y2="598.9" stroke="#454545" stroke-width="1"/>
<line x1="303.5" y1="643.7" x2="307.5" y2="643.7" stroke="#454545" stroke-width="1"/>
<line x1="336.5" y1="593.4" x2="336.5" y2="652.2" stroke="#454545" stroke-width="1"/>
<line x1="334.5" y1="593.4" x2="338.5" y2="593.4" stroke="#454545" stroke-width="1"/>
<line x1="334.5" y1="652.2" x2="338.5" y2="652.2" stroke="#454545" stroke-width="1"/>
<polyline points="117.5,619.4 149.5,619.9 180.5,615.3 211.5,608.4 242.5,611.9 274.5,615.7 305.5,613.4 336.5,610.6" fill="none" stroke="#000080" stroke-width="0.95"/>
<polygon points="117.5,617 119.9,619.4 117.5,621.8 115.1,619.4" fill="#000080"/>
<polygon points="149.5,617.5 151.9,619.9 149.5,622.3 147.1,619.9" fill="#000080"/>
<polygon points="180.5,612.9 182.9,615.3 180.5,617.7 178.1,615.3" fill="#000080"/>
<polygon points="211.5,606 213.9,608.4 211.5,610.8 209.1,608.4" fill="#000080"/>
<polygon points="242.5,609.5 244.9,611.9 242.5,614.3 240.1,611.9" fill="#000080"/>
<polygon points="274.5,613.3 276.9,615.7 274.5,618.1 272.1,615.7" fill="#000080"/>
<polygon points="305.5,611 307.9,613.4 305.5,615.8 303.1,613.4" fill="#000080"/>
<polygon points="336.5,608.2 338.9,610.6 336.5,613 334.1,610.6" fill="#000080"/>
<polyline points="117.5,621.6 149.5,616.5 180.5,619 211.5,619.6 242.5,615.5 274.5,623.3 305.5,622.3 336.5,626.9" fill="none" stroke="#ff00ff" stroke-width="0.95"/>
<rect x="115.7" y="619.3" width="3.6" height="4.6" fill="#ff00ff"/>
<rect x="147.7" y="614.2" width="3.6" height="4.6" fill="#ff00ff"/>
<rect x="178.7" y="616.7" width="3.6" height="4.6" fill="#ff00ff"/>
<rect x="209.7" y="617.3" width="3.6" height="4.6" fill="#ff00ff"/>
<rect x="240.7" y="613.2" width="3.6" height="4.6" fill="#ff00ff"/>
<rect x="272.7" y="621" width="3.6" height="4.6" fill="#ff00ff"/>
<rect x="303.7" y="620" width="3.6" height="4.6" fill="#ff00ff"/>
<rect x="334.7" y="624.6" width="3.6" height="4.6" fill="#ff00ff"/>
<line x1="387.6" y1="702.63" x2="631.6" y2="702.63" stroke="#efefef" stroke-width="1" stroke-dasharray="3.5,2.7"/>
<line x1="387.6" y1="677.67" x2="631.6" y2="677.67" stroke="#efefef" stroke-width="1" stroke-dasharray="3.5,2.7"/>
<line x1="387.6" y1="652.7" x2="631.6" y2="652.7" stroke="#efefef" stroke-width="1" stroke-dasharray="3.5,2.7"/>
<line x1="387.6" y1="627.73" x2="631.6" y2="627.73" stroke="#efefef" stroke-width="1" stroke-dasharray="3.5,2.7"/>
<line x1="387.6" y1="602.77" x2="631.6" y2="602.77" stroke="#efefef" stroke-width="1" stroke-dasharray="3.5,2.7"/>
<line x1="387.6" y1="577.8" x2="631.6" y2="577.8" stroke="#efefef" stroke-width="1" stroke-dasharray="3.5,2.7"/>
<line x1="631.6" y1="577.8" x2="631.6" y2="727.6" stroke="#efefef" stroke-width="1" stroke-dasharray="2,2"/>
<line x1="386.6" y1="577.8" x2="386.6" y2="730.6" stroke="#a5a5a5" stroke-width="1.0"/>
<line x1="383.6" y1="727.6" x2="631.6" y2="727.6" stroke="#aaaaaa" stroke-width="1.3"/>
<line x1="383.6" y1="702.63" x2="386.6" y2="702.63" stroke="#a5a5a5" stroke-width="1"/>
<line x1="383.6" y1="677.67" x2="386.6" y2="677.67" stroke="#a5a5a5" stroke-width="1"/>
<line x1="383.6" y1="652.7" x2="386.6" y2="652.7" stroke="#a5a5a5" stroke-width="1"/>
<line x1="383.6" y1="627.73" x2="386.6" y2="627.73" stroke="#a5a5a5" stroke-width="1"/>
<line x1="383.6" y1="602.77" x2="386.6" y2="602.77" stroke="#a5a5a5" stroke-width="1"/>
<line x1="383.6" y1="577.8" x2="386.6" y2="577.8" stroke="#a5a5a5" stroke-width="1"/>
<line x1="417.23" y1="727.6" x2="417.23" y2="730.6" stroke="#aaaaaa" stroke-width="1"/>
<line x1="447.85" y1="727.6" x2="447.85" y2="730.6" stroke="#aaaaaa" stroke-width="1"/>
<line x1="478.48" y1="727.6" x2="478.48" y2="730.6" stroke="#aaaaaa" stroke-width="1"/>
<line x1="509.1" y1="727.6" x2="509.1" y2="730.6" stroke="#aaaaaa" stroke-width="1"/>
<line x1="539.73" y1="727.6" x2="539.73" y2="730.6" stroke="#aaaaaa" stroke-width="1"/>
<line x1="570.35" y1="727.6" x2="570.35" y2="730.6" stroke="#aaaaaa" stroke-width="1"/>
<line x1="600.98" y1="727.6" x2="600.98" y2="730.6" stroke="#aaaaaa" stroke-width="1"/>
<line x1="631.6" y1="727.6" x2="631.6" y2="730.6" stroke="#aaaaaa" stroke-width="1"/>
<text transform="translate(369.90,731.74) scale(0.6235,1)" font-family='"Liberation Sans", sans-serif' font-size="12.00" fill="#2a2a2a" class="tk">0.0</text>
<text transform="translate(369.90,706.77) scale(0.6235,1)" font-family='"Liberation Sans", sans-serif' font-size="12.00" fill="#2a2a2a" class="tk">0.3</text>
<text transform="translate(369.90,681.81) scale(0.6235,1)" font-family='"Liberation Sans", sans-serif' font-size="12.00" fill="#2a2a2a" class="tk">0.6</text>
<text transform="translate(369.90,656.84) scale(0.6235,1)" font-family='"Liberation Sans", sans-serif' font-size="12.00" fill="#2a2a2a" class="tk">0.9</text>
<text transform="translate(369.90,631.93) scale(0.6235,1)" font-family='"Liberation Sans", sans-serif' font-size="12.00" fill="#2a2a2a" class="tk">1.2</text>
<text transform="translate(369.90,606.85) scale(0.6235,1)" font-family='"Liberation Sans", sans-serif' font-size="12.00" fill="#2a2a2a" class="tk">1.5</text>
<text transform="translate(369.90,581.94) scale(0.6235,1)" font-family='"Liberation Sans", sans-serif' font-size="12.00" fill="#2a2a2a" class="tk">1.8</text>
<text transform="translate(384.52,748.64) scale(0.6235,1)" font-family='"Liberation Sans", sans-serif' font-size="12.00" fill="#2a2a2a" class="tk">0</text>
<text transform="translate(415.15,748.64) scale(0.6235,1)" font-family='"Liberation Sans", sans-serif' font-size="12.00" fill="#2a2a2a" class="tk">1</text>
<text transform="translate(445.77,748.70) scale(0.6235,1)" font-family='"Liberation Sans", sans-serif' font-size="12.00" fill="#2a2a2a" class="tk">2</text>
<text transform="translate(476.40,748.64) scale(0.6235,1)" font-family='"Liberation Sans", sans-serif' font-size="12.00" fill="#2a2a2a" class="tk">3</text>
<text transform="translate(507.02,748.64) scale(0.6235,1)" font-family='"Liberation Sans", sans-serif' font-size="12.00" fill="#2a2a2a" class="tk">4</text>
<text transform="translate(537.65,748.58) scale(0.6235,1)" font-family='"Liberation Sans", sans-serif' font-size="12.00" fill="#2a2a2a" class="tk">5</text>
<text transform="translate(568.27,748.64) scale(0.6235,1)" font-family='"Liberation Sans", sans-serif' font-size="12.00" fill="#2a2a2a" class="tk">6</text>
<text transform="translate(598.90,748.64) scale(0.6235,1)" font-family='"Liberation Sans", sans-serif' font-size="12.00" fill="#2a2a2a" class="tk">7</text>
<text transform="translate(629.52,748.64) scale(0.6235,1)" font-family='"Liberation Sans", sans-serif' font-size="12.00" fill="#2a2a2a" class="tk">8</text>
<text transform="translate(465.50,767.70) scale(0.7171,1)" font-family='"Liberation Sans", sans-serif' font-size="10.75" font-weight="bold" fill="#0a0a0a">Time (six-week periods)</text>
<text transform="translate(367.10,672.90) rotate(-90) scale(0.7000,1)" font-family='"Liberation Sans", sans-serif' font-size="11.73" font-weight="bold" fill="#000" letter-spacing="2.388">Log CS</text>
<line x1="417.5" y1="646.5" x2="417.5" y2="669.7" stroke="#454545" stroke-width="1"/>
<line x1="415.5" y1="646.5" x2="419.5" y2="646.5" stroke="#454545" stroke-width="1"/>
<line x1="447.5" y1="656.7" x2="447.5" y2="679.3" stroke="#454545" stroke-width="1"/>
<line x1="445.5" y1="656.7" x2="449.5" y2="656.7" stroke="#454545" stroke-width="1"/>
<line x1="445.5" y1="679.3" x2="449.5" y2="679.3" stroke="#454545" stroke-width="1"/>
<line x1="478.5" y1="653.4" x2="478.5" y2="683.3" stroke="#454545" stroke-width="1"/>
<line x1="476.5" y1="653.4" x2="480.5" y2="653.4" stroke="#454545" stroke-width="1"/>
<line x1="476.5" y1="683.3" x2="480.5" y2="683.3" stroke="#454545" stroke-width="1"/>
<line x1="509.5" y1="653.1" x2="509.5" y2="692.5" stroke="#454545" stroke-width="1"/>
<line x1="507.5" y1="653.1" x2="511.5" y2="653.1" stroke="#454545" stroke-width="1"/>
<line x1="507.5" y1="692.5" x2="511.5" y2="692.5" stroke="#454545" stroke-width="1"/>
<line x1="539.5" y1="653.1" x2="539.5" y2="692.5" stroke="#454545" stroke-width="1"/>
<line x1="537.5" y1="653.1" x2="541.5" y2="653.1" stroke="#454545" stroke-width="1"/>
<line x1="537.5" y1="692.5" x2="541.5" y2="692.5" stroke="#454545" stroke-width="1"/>
<line x1="570.5" y1="650.4" x2="570.5" y2="688.8" stroke="#454545" stroke-width="1"/>
<line x1="568.5" y1="650.4" x2="572.5" y2="650.4" stroke="#454545" stroke-width="1"/>
<line x1="568.5" y1="688.8" x2="572.5" y2="688.8" stroke="#454545" stroke-width="1"/>
<line x1="600.5" y1="648.2" x2="600.5" y2="684" stroke="#454545" stroke-width="1"/>
<line x1="598.5" y1="648.2" x2="602.5" y2="648.2" stroke="#454545" stroke-width="1"/>
<line x1="598.5" y1="684" x2="602.5" y2="684" stroke="#454545" stroke-width="1"/>
<line x1="631.5" y1="646.1" x2="631.5" y2="688.8" stroke="#454545" stroke-width="1"/>
<line x1="629.5" y1="646.1" x2="633.5" y2="646.1" stroke="#454545" stroke-width="1"/>
<line x1="629.5" y1="688.8" x2="633.5" y2="688.8" stroke="#454545" stroke-width="1"/>
<polyline points="417.5,660.2 447.5,668.2 478.5,672.3 509.5,677.2 539.5,675.3 570.5,674.2 600.5,673.8 631.5,676" fill="none" stroke="#000080" stroke-width="0.95"/>
<polygon points="417.5,657.8 419.9,660.2 417.5,662.6 415.1,660.2" fill="#000080"/>
<polygon points="447.5,665.8 449.9,668.2 447.5,670.6 445.1,668.2" fill="#000080"/>
<polygon points="478.5,669.9 480.9,672.3 478.5,674.7 476.1,672.3" fill="#000080"/>
<polygon points="509.5,674.8 511.9,677.2 509.5,679.6 507.1,677.2" fill="#000080"/>
<polygon points="539.5,672.9 541.9,675.3 539.5,677.7 537.1,675.3" fill="#000080"/>
<polygon points="570.5,671.8 572.9,674.2 570.5,676.6 568.1,674.2" fill="#000080"/>
<polygon points="600.5,671.4 602.9,673.8 600.5,676.2 598.1,673.8" fill="#000080"/>
<polygon points="631.5,673.6 633.9,676 631.5,678.4 629.1,676" fill="#000080"/>
<polyline points="417.5,669.7 447.5,672.8 478.5,672 509.5,669 539.5,669.1 570.5,663.6 600.5,666.5 631.5,665" fill="none" stroke="#ff00ff" stroke-width="0.95"/>
<rect x="415.7" y="667.4" width="3.6" height="4.6" fill="#ff00ff"/>
<rect x="445.7" y="670.5" width="3.6" height="4.6" fill="#ff00ff"/>
<rect x="476.7" y="669.7" width="3.6" height="4.6" fill="#ff00ff"/>
<rect x="507.7" y="666.7" width="3.6" height="4.6" fill="#ff00ff"/>
<rect x="537.7" y="666.8" width="3.6" height="4.6" fill="#ff00ff"/>
<rect x="568.7" y="661.3" width="3.6" height="4.6" fill="#ff00ff"/>
<rect x="598.7" y="664.2" width="3.6" height="4.6" fill="#ff00ff"/>
<rect x="629.7" y="662.7" width="3.6" height="4.6" fill="#ff00ff"/>
<text transform="translate(161.00,145.20) scale(1.0197,1)" font-family='"Liberation Serif", serif' font-size="22.00" font-weight="normal" fill="#000">Visual Acuity</text>
<text transform="translate(429.60,145.70) scale(1.0096,1)" font-family='"Liberation Serif", serif' font-size="22.00" font-weight="normal" fill="#000">Contrast Sensitivity</text>
<text transform="translate(41.30,306.60) rotate(-90) scale(0.9489,1)" font-family='"Liberation Serif", serif' font-size="14.00" font-weight="bold" fill="#000">Normal Illumination</text>
<text transform="translate(41.30,507.50) rotate(-90) scale(0.9086,1)" font-family='"Liberation Serif", serif' font-size="14.00" font-weight="bold" fill="#000">Low (4 % ) Illumination</text>
<text transform="translate(41.30,741.30) rotate(-90) scale(0.9295,1)" font-family='"Liberation Serif", serif' font-size="14.00" font-weight="bold" fill="#000">Very Low (0.1 % ) Illumination</text>
<rect x="146.1" y="782.7" width="130.8" height="17" fill="#fff" stroke="#b4b4b4" stroke-width="1"/>
<line x1="148.3" y1="791.4" x2="160.8" y2="791.4" stroke="#000080" stroke-width="0.95"/>
<polygon points="154.55,789 156.95,791.4 154.55,793.8 152.15,791.4" fill="#000080"/>
<text transform="translate(163.00,794.60) scale(0.5984,1)" font-family='"Liberation Sans", sans-serif' font-size="11.03" font-weight="normal" fill="#151515">Build-up Group</text>
<line x1="209.6" y1="791.4" x2="222.1" y2="791.4" stroke="#ff00ff" stroke-width="0.95"/>
<rect x="214.05" y="789.6" width="3.6" height="3.6" fill="#ff00ff"/>
<text transform="translate(224.30,794.60) scale(0.6121,1)" font-family='"Liberation Sans", sans-serif' font-size="11.03" font-weight="normal" fill="#151515">Wash-out Group</text>
<rect x="435.4" y="783.2" width="146.5" height="17.9" fill="#fff" stroke="#b4b4b4" stroke-width="1"/>
<line x1="438.7" y1="792.9" x2="451.1" y2="792.9" stroke="#000080" stroke-width="0.95"/>
<polygon points="444.9,790.5 447.3,792.9 444.9,795.3 442.5,792.9" fill="#000080"/>
<text transform="translate(453.50,796.00) scale(0.6465,1)" font-family='"Liberation Sans", sans-serif' font-size="11.59" font-weight="normal" fill="#151515">Build-up Group</text>
<line x1="508.1" y1="792.9" x2="520.6" y2="792.9" stroke="#ff00ff" stroke-width="0.95"/>
<rect x="512.55" y="791.1" width="3.6" height="3.6" fill="#ff00ff"/>
<text transform="translate(523.50,796.00) scale(0.6393,1)" font-family='"Liberation Sans", sans-serif' font-size="11.59" font-weight="normal" fill="#151515">Wash-out Group</text>
</svg>
</body></html>
